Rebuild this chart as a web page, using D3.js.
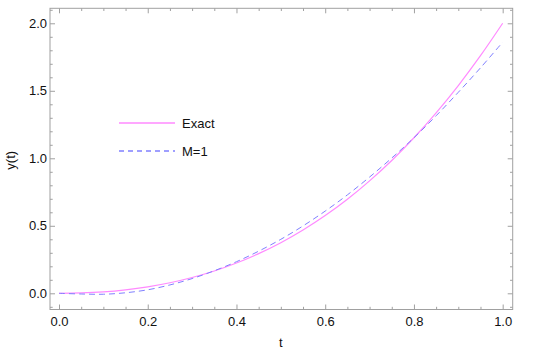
<!DOCTYPE html>
<html>
<head>
<meta charset="utf-8">
<script src="https://cdn.jsdelivr.net/npm/d3@7"></script>
<style>
  body { margin: 0; background: #fff; }
  text { font-family: "Liberation Sans", Arial, sans-serif; }
</style>
</head>
<body>
<div id="chart"></div>
<script>
// values
const T_VALUES = [0, 0.05, 0.1, 0.15, 0.2, 0.25, 0.3, 0.35, 0.4, 0.45, 0.5, 0.55, 0.6, 0.65, 0.7, 0.75, 0.8, 0.85, 0.9, 0.95, 1.0]
const EXACT = [0, 0.003, 0.011, 0.026, 0.048, 0.078, 0.117, 0.165, 0.224, 0.294, 0.375, 0.469, 0.576, 0.697, 0.833, 0.984, 1.152, 1.337, 1.539, 1.760, 2.0]
const M1 = [0, -0.005, -0.007, 0.004, 0.026, 0.062, 0.109, 0.167, 0.234, 0.312, 0.400, 0.499, 0.609, 0.729, 0.861, 1.002, 1.152, 1.315, 1.489, 1.670, 1.860]
const X_TICKS = [0, 0.2, 0.4, 0.6, 0.8, 1.0]
const Y_TICKS = [0, 0.5, 1.0, 1.5, 2.0]
const LEGEND = [
  {name: 'Exact', color: '#ff8aff', dash: null},
  {name: 'M=1', color: '#8080ff', dash: '5,4'},
]

const width = 550, height = 352
const margin = {top: 8.3, right: 37.3, bottom: 42.5, left: 50}

const svg = d3.select('#chart').append('svg')
  .attr('width', width)
  .attr('height', height)

const x = d3.scaleLinear()
  .domain([-0.0203, 1.0226])
  .range([margin.left, width - margin.right])

const y = d3.scaleLinear()
  .domain([-0.12, 2.111])
  .range([height - margin.bottom, margin.top])

const minorX = d3.range(0, 1.0001, 0.05).filter(v => X_TICKS.every(t => Math.abs(t - v) > 1e-6))
const minorY = d3.range(-0.1, 2.1001, 0.1).filter(v => Y_TICKS.every(t => Math.abs(t - v) > 1e-6))

function styleAxis(g){
  g.select('.domain').remove()
  g.selectAll('line').attr('stroke', '#a0a0a0').attr('stroke-width', 1)
  g.selectAll('text').attr('fill', '#111').attr('font-size', 13)
}

// major + minor ticks, inward, on all four sides
const sides = [
  {axis: d3.axisBottom, scale: x, pos: `translate(0,${height - margin.bottom})`, major: X_TICKS, minor: minorX, labels: true},
  {axis: d3.axisTop, scale: x, pos: `translate(0,${margin.top})`, major: X_TICKS, minor: minorX, labels: false},
  {axis: d3.axisLeft, scale: y, pos: `translate(${margin.left},0)`, major: Y_TICKS, minor: minorY, labels: true},
  {axis: d3.axisRight, scale: y, pos: `translate(${width - margin.right},0)`, major: Y_TICKS, minor: minorY, labels: false},
]
for(const s of sides){
  svg.append('g')
    .attr('transform', s.pos)
    .call(s.axis(s.scale).tickValues(s.major).tickSize(-5).tickPadding(s.axis === d3.axisBottom ? 7 : 3)
      .tickFormat(s.labels ? d3.format('.1f') : ''))
    .call(styleAxis)
  svg.append('g')
    .attr('transform', s.pos)
    .call(s.axis(s.scale).tickValues(s.minor).tickSize(-2.7).tickFormat(''))
    .call(styleAxis)
}

// frame
svg.append('rect')
  .attr('x', margin.left)
  .attr('y', margin.top)
  .attr('width', width - margin.left - margin.right)
  .attr('height', height - margin.top - margin.bottom)
  .attr('fill', 'none')
  .attr('stroke', '#a0a0a0')
  .attr('stroke-width', 1)

// curves
const line = d3.line()
  .x(d => x(d[0]))
  .y(d => y(d[1]))
  .curve(d3.curveCatmullRom)

svg.append('path')
  .datum(T_VALUES.map((t, i) => [t, EXACT[i]]))
  .attr('d', line)
  .attr('fill', 'none')
  .attr('stroke', LEGEND[0].color)
  .attr('stroke-width', 1.2)

svg.append('path')
  .datum(T_VALUES.map((t, i) => [t, M1[i]]))
  .attr('d', line)
  .attr('fill', 'none')
  .attr('stroke', LEGEND[1].color)
  .attr('stroke-width', 1)
  .attr('stroke-dasharray', '6,4')

// legend
const legend = svg.append('g').attr('transform', 'translate(119,123)')
LEGEND.forEach((d, i) => {
  const g = legend.append('g').attr('transform', `translate(0,${i * 28})`)
  g.append('line')
    .attr('x1', 0).attr('x2', 56)
    .attr('y1', 0).attr('y2', 0)
    .style('stroke', d.color)
    .style('stroke-width', 1.5)
    .style('stroke-dasharray', d.dash)
  g.append('text')
    .attr('x', 63).attr('y', 5)
    .attr('font-size', 13)
    .attr('fill', '#111')
    .text(d.name)
})

// axis titles
svg.append('text')
  .attr('x', x(0.5)).attr('y', 347)
  .attr('text-anchor', 'middle')
  .attr('font-size', 13)
  .attr('fill', '#111')
  .text('t')

svg.append('text')
  .attr('transform', `translate(15,${y(1.0) + 2}) rotate(-90)`)
  .attr('text-anchor', 'middle')
  .attr('font-size', 13)
  .attr('fill', '#111')
  .text('y(t)')
</script>
</body>
</html>
